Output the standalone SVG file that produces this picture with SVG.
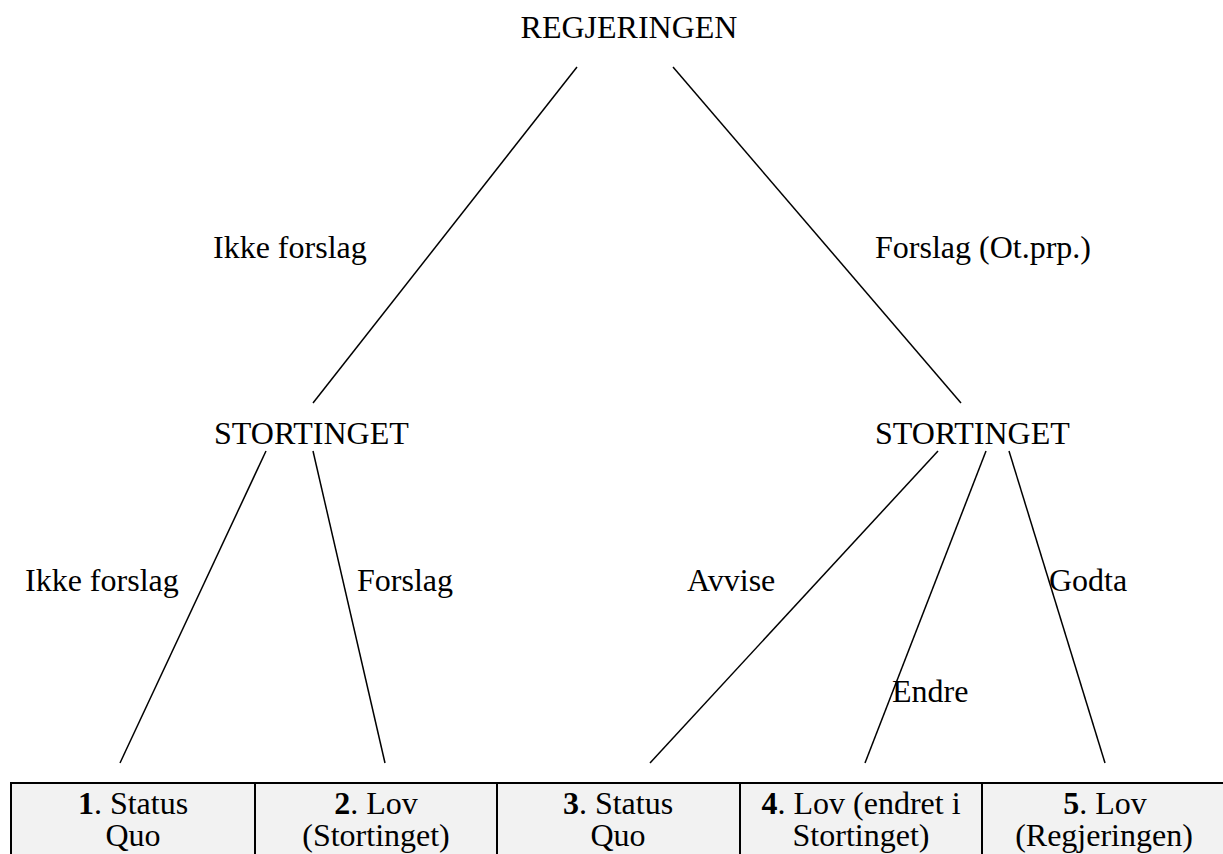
<svg xmlns="http://www.w3.org/2000/svg" width="1223" height="854" viewBox="0 0 1223 854">
<style>
text{font-family:'Liberation Serif','Times New Roman',serif;font-size:32px;fill:#000}
.c{text-anchor:middle}
.b{font-weight:bold}
.e line{stroke:#000;stroke-width:1.5}
.cell{fill:#f2f2f2;stroke:#000;stroke-width:2}
</style>
<rect width="1223" height="854" fill="#fff"/>
<g id="connectors" class="e">
<line x1="577" y1="67" x2="313" y2="403"/>
<line x1="673" y1="67" x2="961" y2="403"/>
<line x1="266" y1="451" x2="120" y2="763"/>
<line x1="313" y1="451" x2="385" y2="763"/>
<line x1="938" y1="451" x2="650" y2="763"/>
<line x1="986" y1="451" x2="865" y2="763"/>
<line x1="1009" y1="451" x2="1105" y2="763"/>
</g>
<g id="labels">
<text x="213" y="258">Ikke forslag</text>
<text x="875" y="258">Forslag (Ot.prp.)</text>
<text x="25" y="591">Ikke forslag</text>
<text x="357" y="591">Forslag</text>
<text x="687" y="591">Avvise</text>
<text x="1049" y="591">Godta</text>
<text x="892" y="702">Endre</text>
</g>
<g id="regjeringen"><text class="c" x="629" y="38">REGJERINGEN</text></g>
<g id="stortinget-left"><text x="214" y="444">STORTINGET</text></g>
<g id="stortinget-right"><text x="875" y="444">STORTINGET</text></g>
<g id="outcome-1"><rect class="cell" x="11" y="783" width="244" height="80"/><text class="c" x="133" y="814"><tspan class="b">1</tspan>. Status</text><text class="c" x="133" y="846">Quo</text></g>
<g id="outcome-2"><rect class="cell" x="255" y="783" width="242" height="80"/><text class="c" x="376" y="814"><tspan class="b">2</tspan>. Lov</text><text class="c" x="376" y="846">(Stortinget)</text></g>
<g id="outcome-3"><rect class="cell" x="497" y="783" width="243" height="80"/><text class="c" x="618" y="814"><tspan class="b">3</tspan>. Status</text><text class="c" x="618" y="846">Quo</text></g>
<g id="outcome-4"><rect class="cell" x="740" y="783" width="242" height="80"/><text class="c" x="861" y="814"><tspan class="b">4</tspan>. Lov (endret i</text><text class="c" x="861" y="846">Stortinget)</text></g>
<g id="outcome-5"><rect class="cell" x="982" y="783" width="250" height="80"/><text class="c" x="1105" y="814"><tspan class="b">5</tspan>. Lov</text><text class="c" x="1104" y="846">(Regjeringen)</text></g>
</svg>
